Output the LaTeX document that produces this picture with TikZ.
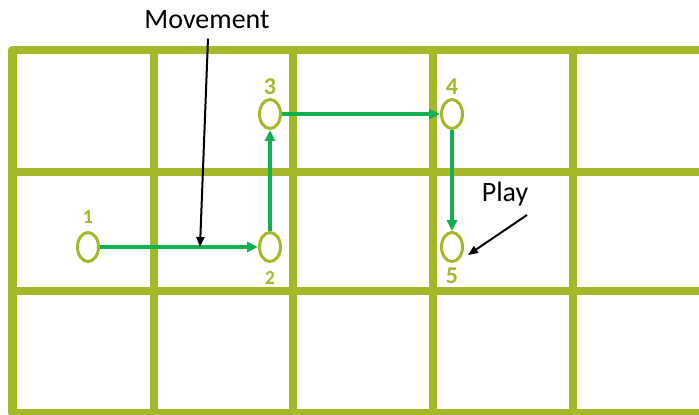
\documentclass[tikz,border=0pt]{standalone}
\usepackage{fontspec}
\setmainfont{Carlito}
\usetikzlibrary{positioning, arrows.meta, shapes.geometric}
\definecolor{boardgreen}{HTML}{A4B82A}
\definecolor{pathgreen}{HTML}{12B050}

\begin{document}
\begin{tikzpicture}[
                x=1pt, y=1pt,
                gridline/.style={line width=8.5pt, draw=boardgreen, line join=round},
                spot/.style={ellipse, draw=boardgreen, line width=3pt, fill=white,
                    minimum width=21pt, minimum height=29pt, inner sep=0pt},
                num/.style={font=\bfseries\fontsize{20}{20}\selectfont, text=boardgreen, inner sep=1pt},
                numbig/.style={num, font=\bfseries\fontsize{24}{24}\selectfont},
                move/.style={line width=3.6pt, draw=pathgreen, -{Triangle[length=11pt, width=10pt]}},
                pointer/.style={line width=2pt, -{Triangle[length=10pt, width=8pt]}},
                lbl/.style={font=\fontsize{28}{28}\selectfont},
            ]
                \useasboundingbox (0,0) rectangle (699,415);
                \clip (0,0) rectangle (699,415);

                %% the board
                \draw[gridline] (720,365) -- (12.5,365) -- (12.5,2) -- (720,2);
                \foreach \x in {154, 293, 433, 573}
                    \draw[gridline] (\x, 2) -- (\x, 365);
                \foreach \y in {124, 243}
                    \draw[gridline] (12.5, \y) -- (720, \y);

                %% the five spots
                \node[spot] (p1) at (88, 168) {};
                \node[spot] (p2) at (270, 168) {};
                \node[spot] (p3) at (270, 301) {};
                \node[spot] (p4) at (452, 301) {};
                \node[spot] (p5) at (452, 168) {};
                \node[num, above=6pt of p1] (n1) {1};
                \node[num, below=7pt of p2] (n2) {2};
                \node[numbig, above=2pt of p3] (n3) {3};
                \node[numbig, above=2pt of p4] (n4) {4};
                \node[numbig, below=4pt of p5] (n5) {5};

                %% the path taken
                \draw[move] (p1) -- (p2);
                \draw[move] (p2) -- (p3);
                \draw[move] (p3) -- (p4);
                \draw[move] (p4) -- (p5);

                %% callouts
                \node[lbl] (mv) at (207, 395) {Movement};
                \coordinate (mvtip) at (200, 168);
                \draw[pointer] ([shift={(1,-6)}]mv.south) -- (mvtip);

                \node[lbl] (play) at (505, 221) {Play};
                \coordinate (playtail) at (527, 200);
                \coordinate (playtip) at (468, 160);
                \draw[pointer] (playtail) -- (playtip);
            \end{tikzpicture}
\end{document}
